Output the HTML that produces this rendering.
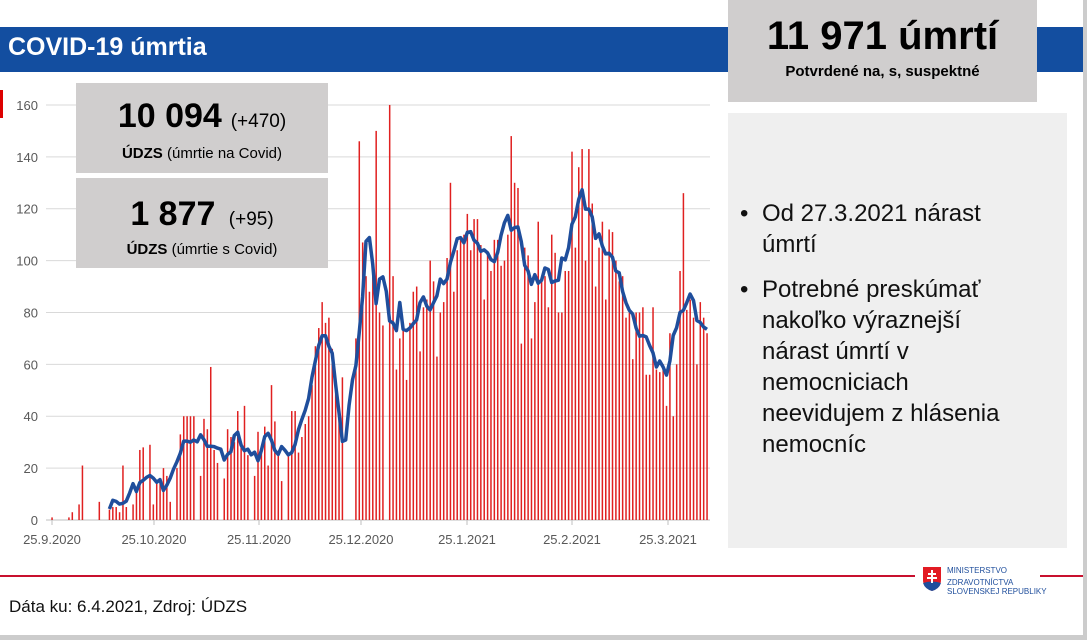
<!DOCTYPE html>
<html><head><meta charset="utf-8"><style>
body{margin:0;width:1087px;height:640px;overflow:hidden;background:#fff;font-family:"Liberation Sans","DejaVu Sans",sans-serif;position:relative}
.a{position:absolute}
</style></head><body>
<div class="a" style="left:0;top:27px;width:1083px;height:45px;background:#134ea0"></div>
<div class="a" style="left:8px;top:33px;color:#fff;font-weight:bold;font-size:25px">COVID-19 úmrtia</div>
<div class="a" style="left:728px;top:0;width:309px;height:102px;background:#d0cece;text-align:center">
 <div style="font-weight:bold;font-size:40px;margin-top:13px;line-height:46px">11 971 úmrtí</div>
 <div style="font-weight:bold;font-size:15px;margin-top:4px">Potvrdené na, s, suspektné</div>
</div>
<div class="a" style="left:0;top:90px;width:3px;height:28px;background:#d00"></div>
<div class="a" style="left:728px;top:113px;width:339px;height:435px;background:#efefef"></div>
<div class="a" style="left:740px;top:198px;width:320px;font-size:24px;line-height:31px;color:#111;white-space:nowrap">
 <div style="display:flex"><span style="width:22px;flex:none">•</span><span>Od 27.3.2021 nárast<br>úmrtí</span></div>
 <div style="display:flex;margin-top:14px"><span style="width:22px;flex:none">•</span><span>Potrebné preskúmať<br>nakoľko výraznejší<br>nárast úmrtí v<br>nemocniciach<br>neevidujem z hlásenia<br>nemocníc</span></div>
</div>
<div class="a" style="left:1083px;top:0;width:4px;height:640px;background:#ccc"></div>
<div class="a" style="left:0;top:635px;width:1087px;height:5px;background:#ccc"></div>
<div class="a" style="left:0;top:575px;width:915px;height:2px;background:#c8102e"></div>
<div class="a" style="left:1040px;top:575px;width:43px;height:2px;background:#c8102e"></div>
<div class="a" style="left:9px;top:597px;font-size:17px;color:#111">Dáta ku: 6.4.2021, Zdroj: ÚDZS</div>
<svg class="a" style="left:922px;top:566px" width="20" height="26"><path d="M1 1H19V14Q19 22 10 25Q1 22 1 14Z" fill="#e21b23"/><path d="M1 17Q10 14 19 17Q17 23 10 25Q3 23 1 17Z" fill="#1f4e9c"/><path d="M9 4h2v13h-2zM6 7h8v2H6zM5 11h10v2H5z" fill="#fff"/></svg>
<div class="a" style="left:947px;top:566px;font-size:8px;line-height:9px;color:#1f4e9c">MINISTERSTVO<br><span style="display:block;margin-top:3px">ZDRAVOTNÍCTVA</span>SLOVENSKEJ REPUBLIKY</div>
<svg class="a" style="left:0;top:0" width="727" height="560" id="ch"></svg>
<div class="a" style="left:76px;top:83px;width:252px;height:90px;background:#d0cece;text-align:center">
 <div style="margin-top:14px;line-height:38px"><b style="font-size:34px">10 094</b>&nbsp;&nbsp;<span style="font-size:19px">(+470)</span></div>
 <div style="font-size:15px;margin-top:3px"><b>ÚDZS</b> (úmrtie na Covid)</div>
</div>
<div class="a" style="left:76px;top:178px;width:252px;height:90px;background:#d0cece;text-align:center">
 <div style="margin-top:17px;line-height:38px"><b style="font-size:34px">1 877</b>&nbsp;&nbsp;&nbsp;<span style="font-size:19px">(+95)</span></div>
 <div style="font-size:15px;margin-top:1px"><b>ÚDZS</b> (úmrtie s Covid)</div>
</div>
<script>
var d=[1,0,0,0,0,1,3,0,6,21,0,0,0,0,7,0,0,
4,5,5,3,21,5,0,6,11,27,28,0,29,
6,14,16,20,17,7,0,20,33,40,40,40,40,0,17,39,35,59,27,22,
0,16,35,32,30,42,29,44,25,0,17,34,27,36,21,
52,38,26,15,0,25,42,42,26,32,37,40,52,67,74,84,76,78,
66,52,39,55,0,0,0,70,146,107,94,88,97,150,80,75,0,
160,94,58,70,75,54,76,88,90,65,82,85,100,92,63,80,84,101,130,88,104,108,
110,118,104,116,116,106,85,102,96,108,108,98,100,110,148,130,128,68,105,
102,70,84,115,92,94,82,110,103,80,80,96,96,142,
105,136,143,100,143,122,90,105,115,85,112,111,100,92,94,78,80,
62,80,80,82,56,56,82,58,57,60,44,72,40,60,96,126,81,85,78,60,84,78,72];
var N=d.length,x0=52,x1=707,Y=v=>520-v*2.594,X=i=>x0+i*(x1-x0)/(N-1);
var s='';
for(var v=0;v<=160;v+=20){s+='<line x1="46" x2="710" y1="'+Y(v)+'" y2="'+Y(v)+'" stroke="#d9d9d9" stroke-width="1"/>';
s+='<text x="38" y="'+(Y(v)+5)+'" text-anchor="end" font-size="13" fill="#595959">'+v+'</text>';}
s+='<line x1="46" x2="710" y1="520" y2="520" stroke="#bfbfbf"/>';
[["25.9.2020",52],["25.10.2020",154],["25.11.2020",259],["25.12.2020",361],["25.1.2021",467],["25.2.2021",572],["25.3.2021",668]].forEach(function(t){
s+='<line x1="'+t[1]+'" x2="'+t[1]+'" y1="520" y2="525" stroke="#bfbfbf"/><text x="'+t[1]+'" y="544" text-anchor="middle" font-size="13" fill="#595959">'+t[0]+'</text>';});
for(var i=0;i<N;i++)if(d[i])s+='<rect x="'+(X(i)-0.7)+'" y="'+Y(d[i])+'" width="1.5" height="'+(d[i]*2.594)+'" fill="#e02020"/>';
var p='';for(var i=17;i<N;i++){var a=0,c=0;for(var j=i-3;j<=i+3;j++){if(j>=17&&j<N){a+=d[j];c++;}}p+=(p?'L':'M')+X(i).toFixed(1)+' '+Y(a/c).toFixed(1);}
s+='<path d="'+p+'" fill="none" stroke="#1f4e9c" stroke-width="3.5" stroke-linejoin="round"/>';
document.getElementById('ch').innerHTML=s;
</script>
</body></html>
